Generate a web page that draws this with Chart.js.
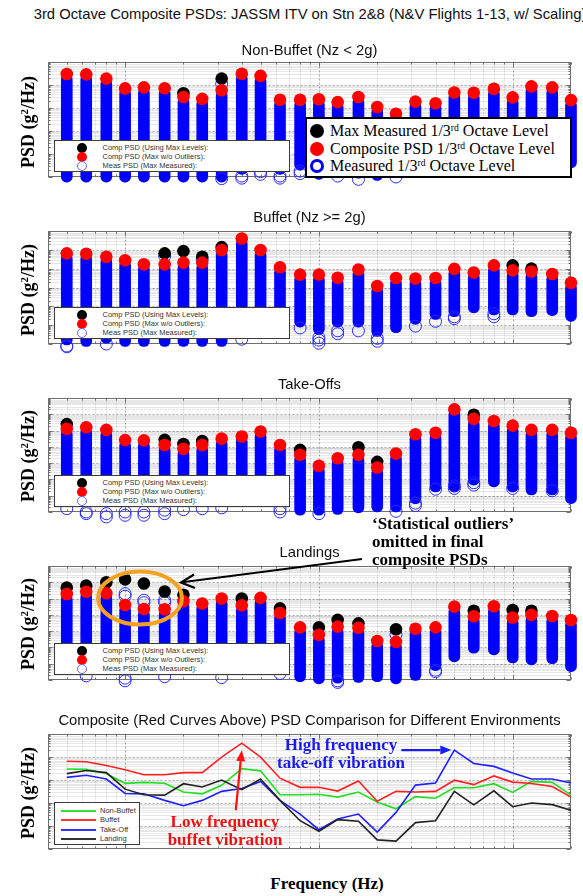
<!DOCTYPE html>
<html>
<head>
<meta charset="utf-8">
<title>3rd Octave Composite PSDs</title>
<script src="https://cdn.jsdelivr.net/npm/chart.js@4.4.1/dist/chart.umd.min.js"></script>
<style>
  html, body { margin: 0; padding: 0; background: #fff; }
  body { position: relative; width: 583px; height: 896px; overflow: hidden;
         font-family: "Liberation Sans", Arial, sans-serif; color: #000; }
  canvas { position: absolute; left: 0; }
  .c { position: absolute; white-space: nowrap; transform: translate(-50%, -50%); line-height: 1; }
  .ttl { font-size: 14.8px; color: #111; }
  .ylab { position: absolute; left: 28px; white-space: nowrap; line-height: 1;
          font: bold 18px "Liberation Serif", "Times New Roman", serif;
          transform: translate(-50%, -50%) rotate(-90deg); }
  .ylab sup, .big sup { font-size: 0.6em; vertical-align: 0.55em; line-height: 0; }
  .serifb { font: bold 17px "Liberation Serif", "Times New Roman", serif; line-height: 1; }
  .lg { position: absolute; background: #fff; border: 1px solid #3c3c3c; box-sizing: border-box; }
  .lg .m { position: absolute; width: 10px; height: 10px; border-radius: 50%;
           transform: translate(-50%, -50%); box-sizing: border-box; }
  .lg .tx { position: absolute; font-size: 7.5px; color: #333; transform: translateY(-50%);
            white-space: nowrap; line-height: 1; }
  .lg .ln { position: absolute; height: 2px; transform: translateY(-50%); }
  .big { position: absolute; background: #fff; border: 2px solid #000; box-sizing: border-box; }
  .big .m { position: absolute; width: 14px; height: 14px; border-radius: 50%;
            transform: translate(-50%, -50%); box-sizing: border-box; }
  .big .tx { position: absolute; font: 16px "Liberation Serif", "Times New Roman", serif;
             transform: translateY(-50%); white-space: nowrap; line-height: 1; }
  svg.overlay { position: absolute; left: 0; top: 0; pointer-events: none; }
</style>
</head>
<body>
<div id="charts"></div>

<div class="c ttl" style="left:310px; top:13.5px;">3rd Octave Composite PSDs: JASSM ITV on Stn 2&amp;8 (N&amp;V Flights 1-13, w/ Scaling)</div>
<div class="c ttl" style="left:309.5px; top:49.5px;">Non-Buffet (Nz &lt; 2g)</div>
<div class="c ttl" style="left:309.5px; top:216.5px;">Buffet (Nz &gt;= 2g)</div>
<div class="c ttl" style="left:309.5px; top:383.5px;">Take-Offs</div>
<div class="c ttl" style="left:309.5px; top:551.5px;">Landings</div>
<div class="c ttl" style="left:309.5px; top:719.5px;">Composite (Red Curves Above) PSD Comparison for Different Environments</div>

<div class="ylab" style="top:122px;">PSD (g<sup>2</sup>/Hz)</div>
<div class="ylab" style="top:290px;">PSD (g<sup>2</sup>/Hz)</div>
<div class="ylab" style="top:456px;">PSD (g<sup>2</sup>/Hz)</div>
<div class="ylab" style="top:624px;">PSD (g<sup>2</sup>/Hz)</div>
<div class="ylab" style="top:793px;">PSD (g<sup>2</sup>/Hz)</div>
<div class="c serifb" style="left:327px; top:883px;">Frequency (Hz)</div>

<div id="legends"></div>

<div class="big" style="left:305px; top:117px; width:267px; height:61px;">
  <div class="m" style="left:10px; top:12px; background:#000;"></div>
  <div class="tx" style="left:23px; top:12px;">Max Measured 1/3<sup>rd</sup> Octave Level</div>
  <div class="m" style="left:10px; top:29.5px; background:#f00;"></div>
  <div class="tx" style="left:23px; top:29.5px;">Composite PSD 1/3<sup>rd</sup> Octave Level</div>
  <div class="m" style="left:10px; top:47px; border:3px solid #0000ee;"></div>
  <div class="tx" style="left:23px; top:47px;">Measured 1/3<sup>rd</sup> Octave Level</div>
</div>

<div class="lg" style="left:54px; top:802px; width:86px; height:43px;">
  <div class="ln" style="left:6px; width:35px; top:7.5px; background:#33dd33;"></div>
  <div class="tx" style="left:45px; top:7.5px;">Non-Buffet</div>
  <div class="ln" style="left:6px; width:35px; top:17px; background:#ff3333;"></div>
  <div class="tx" style="left:45px; top:17px;">Buffet</div>
  <div class="ln" style="left:6px; width:35px; top:26.5px; background:#3333ff;"></div>
  <div class="tx" style="left:45px; top:26.5px;">Take-Off</div>
  <div class="ln" style="left:6px; width:35px; top:36px; background:#333;"></div>
  <div class="tx" style="left:45px; top:36px;">Landing</div>
</div>

<div class="serifb" style="position:absolute; left:372px; top:515px; line-height:18px;">‘Statistical outliers’<br>omitted in final<br>composite PSDs</div>
<div class="serifb" style="position:absolute; left:341px; top:754px; transform:translate(-50%,-50%); color:#1a1aee; text-align:center; line-height:18px;">High frequency<br>take-off vibration</div>
<div class="serifb" style="position:absolute; left:225px; top:831px; transform:translate(-50%,-50%); color:#ee1111; text-align:center; line-height:18px;">Low frequency<br>buffet vibration</div>

<svg class="overlay" width="583" height="896">
  <ellipse cx="140" cy="598" rx="42" ry="26.5" fill="none" stroke="#f5a224" stroke-width="4"/>
  <line x1="362" y1="559" x2="182" y2="582.3" stroke="#000" stroke-width="2"/>
  <polyline points="194,574.5 181,582.5 195,588" fill="none" stroke="#000" stroke-width="2.2"/>
</svg>

<script>
// 1/3-octave band centre frequencies (Hz)
const bandFreqs = [5, 6.3, 8, 10, 12.5, 16, 20, 25, 31.5, 40, 50, 63, 80, 100, 125, 160,
                   200, 250, 315, 400, 500, 630, 800, 1000, 1250, 1600, 2000];

// ---- Non-Buffet (Nz < 2g), g^2/Hz ----
const nonBuffetComp = [0.30, 0.29, 0.19, 0.071, 0.079, 0.072, 0.030, 0.025, 0.059, 0.31, 0.25, 0.023, 0.023, 0.024,
                       0.018, 0.030, 0.011, 0.0056, 0.019, 0.016, 0.047, 0.046, 0.069, 0.029, 0.087, 0.079, 0.022];
const nonBuffetMax = [null, null, null, null, null, null, 0.044, null, 0.19, null, null, null, null, null,
                      null, null, null, null, null, null, null, null, null, null, null, null, null];
const nonBuffetMeasLow = [6.0e-6, 6.0e-6, 6.0e-6, 6.0e-6, 6.0e-6, 6.0e-6, 6.0e-6, 6.0e-6, 6.0e-6, 1.3e-5, 2.0e-5,
                          1.3e-5, 2.0e-5, 7.9e-6, 1.3e-5, 8.9e-6, 7.1e-6, 1.1e-5, 2.5e-5, 2.5e-5, 2.5e-5, 2.5e-5,
                          2.5e-5, 2.5e-5, 2.5e-5, 2.5e-5, 2.5e-5];
const nonBuffetRings = [[31.5, 0.11], [31.5, 8.5e-6], [40, 1.1e-5], [40, 8.9e-6], [50, 1.7e-5], [50, 1.3e-5],
                        [63, 1.1e-5], [63, 8.9e-6], [80, 1.8e-5], [80, 1.4e-5], [125, 1.1e-5], [160, 7.9e-6],
                        [250, 1.0e-5]];

// ---- Buffet (Nz >= 2g) ----
const buffetComp = [0.65, 0.62, 0.43, 0.28, 0.17, 0.17, 0.21, 0.21, 0.98, 4.0, 0.98, 0.12, 0.048, 0.048,
                    0.033, 0.091, 0.012, 0.032, 0.030, 0.032, 0.098, 0.063, 0.15, 0.081, 0.071, 0.052, 0.018];
const buffetMax = [null, null, null, null, null, 0.65, 0.85, 0.43, 1.4, null, null, null, null, null,
                   null, null, null, null, null, null, null, null, null, 0.15, 0.10, null, null];
const buffetMeasLow = [8.9e-6, 7.4e-6, 1.1e-5, 7.4e-6, 7.4e-6, 7.4e-6, 7.4e-6, 7.4e-6, 7.4e-6, 3.2e-5, 4.0e-5,
                       1.1e-4, 7.9e-5, 3.2e-5, 7.9e-5, 7.9e-5, 2.5e-5, 4.0e-5, 1.1e-4, 2.0e-4, 2.8e-4, 4.5e-4,
                       3.5e-4, 3.5e-4, 2.8e-4, 3.2e-4, 1.6e-4];
const buffetRings = [[16, 0.47], [25, 0.31], [5, 7.9e-6], [5, 7.1e-6], [8, 1.0e-5], [40, 1.8e-5], [63, 8.9e-5],
                     [63, 7.6e-5], [80, 7.1e-5], [100, 2.2e-5], [100, 1.6e-5], [100, 1.1e-5], [125, 5.0e-5],
                     [125, 3.5e-5], [160, 5.0e-5], [200, 2.0e-5], [200, 1.4e-5], [315, 8.9e-5], [400, 1.6e-4],
                     [500, 2.8e-4], [500, 2.2e-4], [800, 4.0e-4], [800, 2.8e-4]];

// ---- Take-Offs ----
const takeOffComp = [0.13, 0.16, 0.11, 0.026, 0.025, 0.013, 0.0076, 0.013, 0.032, 0.043, 0.087, 0.013, 0.0033,
                     0.00069, 0.0020, 0.0033, 0.00054, 0.0039, 0.060, 0.074, 2.0, 0.52, 0.39, 0.20, 0.11, 0.11, 0.074];
const takeOffMax = [0.25, null, null, null, null, 0.027, 0.015, 0.023, null, null, null, null, 0.0065, null,
                    null, 0.0095, 0.0012, null, null, null, null, 0.93, null, null, null, null, null];
const takeOffMeasLow = [2.5e-6, 2.5e-6, 2.5e-6, 2.5e-6, 2.5e-6, 2.5e-6, 2.5e-6, 2.5e-6, 3.2e-6, 3.2e-6, 3.2e-6,
                        2.5e-6, 6.3e-7, 6.3e-7, 7.1e-7, 8.9e-7, 1.0e-6, 1.0e-6, 3.2e-6, 1.7e-5, 1.7e-5, 4.5e-5,
                        3.5e-5, 1.7e-5, 1.1e-5, 1.1e-5, 3.3e-6];
const takeOffRings = [[5, 1.6e-6], [6.3, 1.0e-6], [6.3, 7.9e-7], [8, 7.9e-7], [8, 5.0e-7], [10, 1.0e-6],
                      [10, 6.3e-7], [12.5, 1.0e-6], [12.5, 6.3e-7], [16, 1.3e-6], [16, 7.9e-7], [20, 1.4e-6],
                      [25, 1.6e-6], [31.5, 1.8e-6], [63, 1.6e-6], [63, 1.0e-6], [100, 7.9e-7], [250, 1.1e-6],
                      [315, 3.5e-6], [315, 2.5e-6], [400, 2.5e-5], [500, 4.0e-5], [500, 2.8e-5], [630, 6.3e-5],
                      [630, 4.5e-5], [1000, 2.8e-5], [1600, 2.0e-5]];

// ---- Landings ----
const landingComp = [0.19, 0.26, 0.21, 0.040, 0.023, 0.022, 0.069, 0.050, 0.10, 0.038, 0.11, 0.013, 0.0017,
                     0.00059, 0.0019, 0.0016, 0.00025, 0.00022, 0.0014, 0.0017, 0.032, 0.0083, 0.034, 0.0069,
                     0.010, 0.0085, 0.0048];
const landingMax = [0.47, 0.62, 1.0, 1.5, 0.85, 0.27, 0.17, null, null, 0.10, null, 0.025, null, 0.0017,
                    0.0049, 0.0030, null, 0.0013, null, null, null, 0.018, null, 0.020, 0.018, null, null];
const landingMeasLow = [2.5e-6, 2.5e-6, 2.5e-6, 2.5e-6, 2.5e-6, 2.5e-6, 2.5e-6, 2.5e-6, 2.5e-6, 2.5e-6, 2.5e-6,
                        3.2e-6, 7.9e-7, 5.8e-7, 6.3e-7, 7.1e-7, 7.9e-7, 5.8e-7, 9.3e-7, 3.8e-6, 1.3e-5, 4.4e-5,
                        3.5e-5, 1.1e-5, 8.5e-6, 1.0e-5, 3.3e-6];
const landingRings = [[10, 0.20], [10, 0.14], [12.5, 0.079], [12.5, 0.056], [16, 0.079], [16, 0.056],
                      [250, 5.9e-4], [6.3, 1.8e-6], [10, 1.3e-6], [10, 8.9e-7], [16, 1.6e-6], [31.5, 1.4e-6],
                      [63, 2.5e-6], [125, 8.9e-7], [125, 7.1e-7], [400, 4.0e-6], [400, 3.2e-6]];

// ---------------------------------------------------------------------------
const W = 583, PLOT_L = 48, PLOT_R = 571, PAD_T = 12, PAD_B = 18;
const F_MIN = 4, F_MAX = 2000;

Chart.defaults.animation = false;
Chart.defaults.font.family = '"Liberation Sans", Arial, sans-serif';

// 1..9 x 10^n tick values inside [min, max]
function logTicks(min, max) {
  const out = [];
  for (let e = Math.floor(Math.log10(min) + 1e-9); Math.pow(10, e) <= max * 1.0001; e++) {
    for (let m = 1; m <= 9; m++) {
      const v = m * Math.pow(10, e);
      if (v >= min * 0.9999 && v <= max * 1.0001) out.push({ value: v, major: m === 1 });
    }
  }
  return out;
}

// MATLAB-style box: dotted log grid, inward ticks on all four sides
const axesBox = {
  id: 'axesBox',
  beforeDatasetsDraw(chart) {
    const { ctx, chartArea: a, scales: { x, y } } = chart;
    const L = Math.round(a.left) + 0.5, R = Math.round(a.right) - 0.5;
    const T = Math.round(a.top) + 0.5, B = Math.round(a.bottom) - 0.5;
    const seg = (x1, y1, x2, y2) => { ctx.beginPath(); ctx.moveTo(x1, y1); ctx.lineTo(x2, y2); ctx.stroke(); };
    const xt = logTicks(x.min, x.max).map(t => ({ ...t, p: Math.round(x.getPixelForValue(t.value)) + 0.5 }));
    const yt = logTicks(y.min, y.max).map(t => ({ ...t, p: Math.round(y.getPixelForValue(t.value)) + 0.5 }));
    ctx.save();
    ctx.lineWidth = 1;
    for (const t of xt) {
      if (t.p <= L + 1 || t.p >= R - 1) continue;
      ctx.strokeStyle = t.major ? 'rgba(0,0,0,0.34)' : 'rgba(0,0,0,0.17)';
      ctx.setLineDash(t.major ? [2, 2] : [1, 1]);
      seg(t.p, T, t.p, B);
    }
    for (const t of yt) {
      if (t.p <= T + 1 || t.p >= B - 1) continue;
      ctx.strokeStyle = t.major ? 'rgba(0,0,0,0.34)' : 'rgba(0,0,0,0.19)';
      ctx.setLineDash(t.major ? [2, 2] : [1, 1]);
      seg(L, t.p, R, t.p);
    }
    ctx.setLineDash([]);
    ctx.strokeStyle = '#6e6e6e';
    for (const t of xt) { const n = t.major ? 4 : 2; seg(t.p, B, t.p, B - n); seg(t.p, T, t.p, T + n); }
    for (const t of yt) { const n = t.major ? 4 : 2; seg(L, t.p, L + n, t.p); seg(R, t.p, R - n, t.p); }
    ctx.strokeRect(L, T, R - L, B - T);
    ctx.restore();
  }
};

function addCanvas(top, bottom) {
  const cv = document.createElement('canvas');
  cv.width = W;
  cv.height = bottom - top + PAD_T + PAD_B;
  cv.style.top = (top - PAD_T) + 'px';
  document.getElementById('charts').appendChild(cv);
  return cv;
}

function baseOptions(yMin, yMax) {
  return {
    responsive: false, animation: false, devicePixelRatio: 1, events: [],
    layout: { padding: { left: PLOT_L, right: W - PLOT_R, top: PAD_T, bottom: PAD_B } },
    plugins: { legend: { display: false }, tooltip: { enabled: false }, title: { display: false } },
    scales: {
      x: { type: 'logarithmic', min: F_MIN, max: F_MAX, display: false, offset: false },
      y: { type: 'logarithmic', min: yMin, max: yMax, display: false }
    }
  };
}

const toPoints = arr => bandFreqs.map((f, i) => (arr[i] == null ? null : { x: f, y: arr[i] })).filter(Boolean);

function psdPanel(p) {
  const cv = addCanvas(p.top, p.bottom);
  new Chart(cv, {
    type: 'bar',
    data: {
      datasets: [
        { type: 'line', label: 'Comp PSD (Max w/o Outliers)', data: toPoints(p.comp), showLine: false,
          pointRadius: 6.3, pointBackgroundColor: '#ff0000', pointBorderWidth: 0, order: 0, clip: false },
        { type: 'line', label: 'Comp PSD (Using Max Levels)', data: toPoints(p.max), showLine: false,
          pointRadius: 6.3, pointBackgroundColor: '#000000', pointBorderWidth: 0, order: 1, clip: false },
        { type: 'line', label: 'Meas PSD', data: p.rings.map(([f, v]) => ({ x: f, y: v })), showLine: false,
          pointRadius: 6, pointBackgroundColor: 'rgba(0,0,0,0)', pointBorderColor: '#2a2aff',
          pointBorderWidth: 1, order: 2, clip: false },
        { type: 'bar', label: 'Measured range', data: bandFreqs.map((f, i) => ({ x: f, y: [p.low[i], p.comp[i]] })),
          backgroundColor: '#0000ff', barThickness: 11, borderRadius: 5.5, borderSkipped: false,
          borderWidth: 0, order: 3, clip: false }
      ]
    },
    options: baseOptions(p.yMin, p.yMax),
    plugins: [axesBox]
  });
  // small legend in the lower-left corner
  const lg = document.createElement('div');
  lg.className = 'lg';
  lg.style.cssText = `left:54px; top:${p.legTop}px; width:236px; height:32px;`;
  lg.innerHTML =
    '<div class="m" style="left:27px; top:6.5px; background:#000;"></div>' +
    '<div class="tx" style="left:47.5px; top:6.5px;">Comp PSD (Using Max Levels):</div>' +
    '<div class="m" style="left:27px; top:15.5px; background:#f00;"></div>' +
    '<div class="tx" style="left:47.5px; top:15.5px;">Comp PSD (Max w/o Outliers):</div>' +
    '<div class="m" style="left:27px; top:24.5px; border:1px solid #6666ff;"></div>' +
    '<div class="tx" style="left:47.5px; top:24.5px;">Meas PSD (Max Measured):</div>';
  document.getElementById('legends').appendChild(lg);
}

psdPanel({ top: 62, bottom: 177, yMin: 1e-5, yMax: 1, legTop: 140,
           comp: nonBuffetComp, max: nonBuffetMax, low: nonBuffetMeasLow, rings: nonBuffetRings });
psdPanel({ top: 231, bottom: 344, yMin: 1e-5, yMax: 10, legTop: 307,
           comp: buffetComp, max: buffetMax, low: buffetMeasLow, rings: buffetRings });
psdPanel({ top: 398, bottom: 512, yMin: 1e-6, yMax: 10, legTop: 475,
           comp: takeOffComp, max: takeOffMax, low: takeOffMeasLow, rings: takeOffRings });
psdPanel({ top: 566, bottom: 680, yMin: 1e-6, yMax: 10, legTop: 643,
           comp: landingComp, max: landingMax, low: landingMeasLow, rings: landingRings });

// Arrows pointing at the buffet and take-off peaks of the comparison plot
function arrow(ctx, x1, y1, x2, y2, color) {
  const ang = Math.atan2(y2 - y1, x2 - x1), len = 11, half = 4.5;
  const bx = x2 - len * Math.cos(ang), by = y2 - len * Math.sin(ang);
  ctx.save();
  ctx.strokeStyle = color; ctx.fillStyle = color; ctx.lineWidth = 2.2;
  ctx.beginPath(); ctx.moveTo(x1, y1); ctx.lineTo(bx, by); ctx.stroke();
  ctx.beginPath();
  ctx.moveTo(x2, y2);
  ctx.lineTo(bx + half * Math.sin(ang), by - half * Math.cos(ang));
  ctx.lineTo(bx - half * Math.sin(ang), by + half * Math.cos(ang));
  ctx.closePath(); ctx.fill();
  ctx.restore();
}

const peakArrows = {
  id: 'peakArrows',
  afterDatasetsDraw(chart) {
    const { ctx, scales: { x, y } } = chart;
    const bi = buffetComp.indexOf(Math.max(...buffetComp));
    const bx = x.getPixelForValue(bandFreqs[bi]), by = y.getPixelForValue(buffetComp[bi]) + 7;
    arrow(ctx, bx - 6, by + 60, bx, by, '#ff1010');
    const ti = takeOffComp.indexOf(Math.max(...takeOffComp));
    const tx = x.getPixelForValue(bandFreqs[ti]) - 3, ty = y.getPixelForValue(takeOffComp[ti]);
    arrow(ctx, tx - 50, ty, tx, ty, '#1a1aff');
  }
};

const envLine = (label, arr, color) => ({
  label, data: toPoints(arr), borderColor: color, borderWidth: 1.6, pointRadius: 0,
  tension: 0, fill: false, clip: false
});

new Chart(addCanvas(734, 849), {
  type: 'line',
  data: {
    datasets: [
      envLine('Landing', landingComp, '#222222'),
      envLine('Take-Off', takeOffComp, '#2020ff'),
      envLine('Buffet', buffetComp, '#ff2020'),
      envLine('Non-Buffet', nonBuffetComp, '#22dd22')
    ]
  },
  options: baseOptions(1e-4, 10),
  plugins: [axesBox, peakArrows]
});
</script>
</body>
</html>
